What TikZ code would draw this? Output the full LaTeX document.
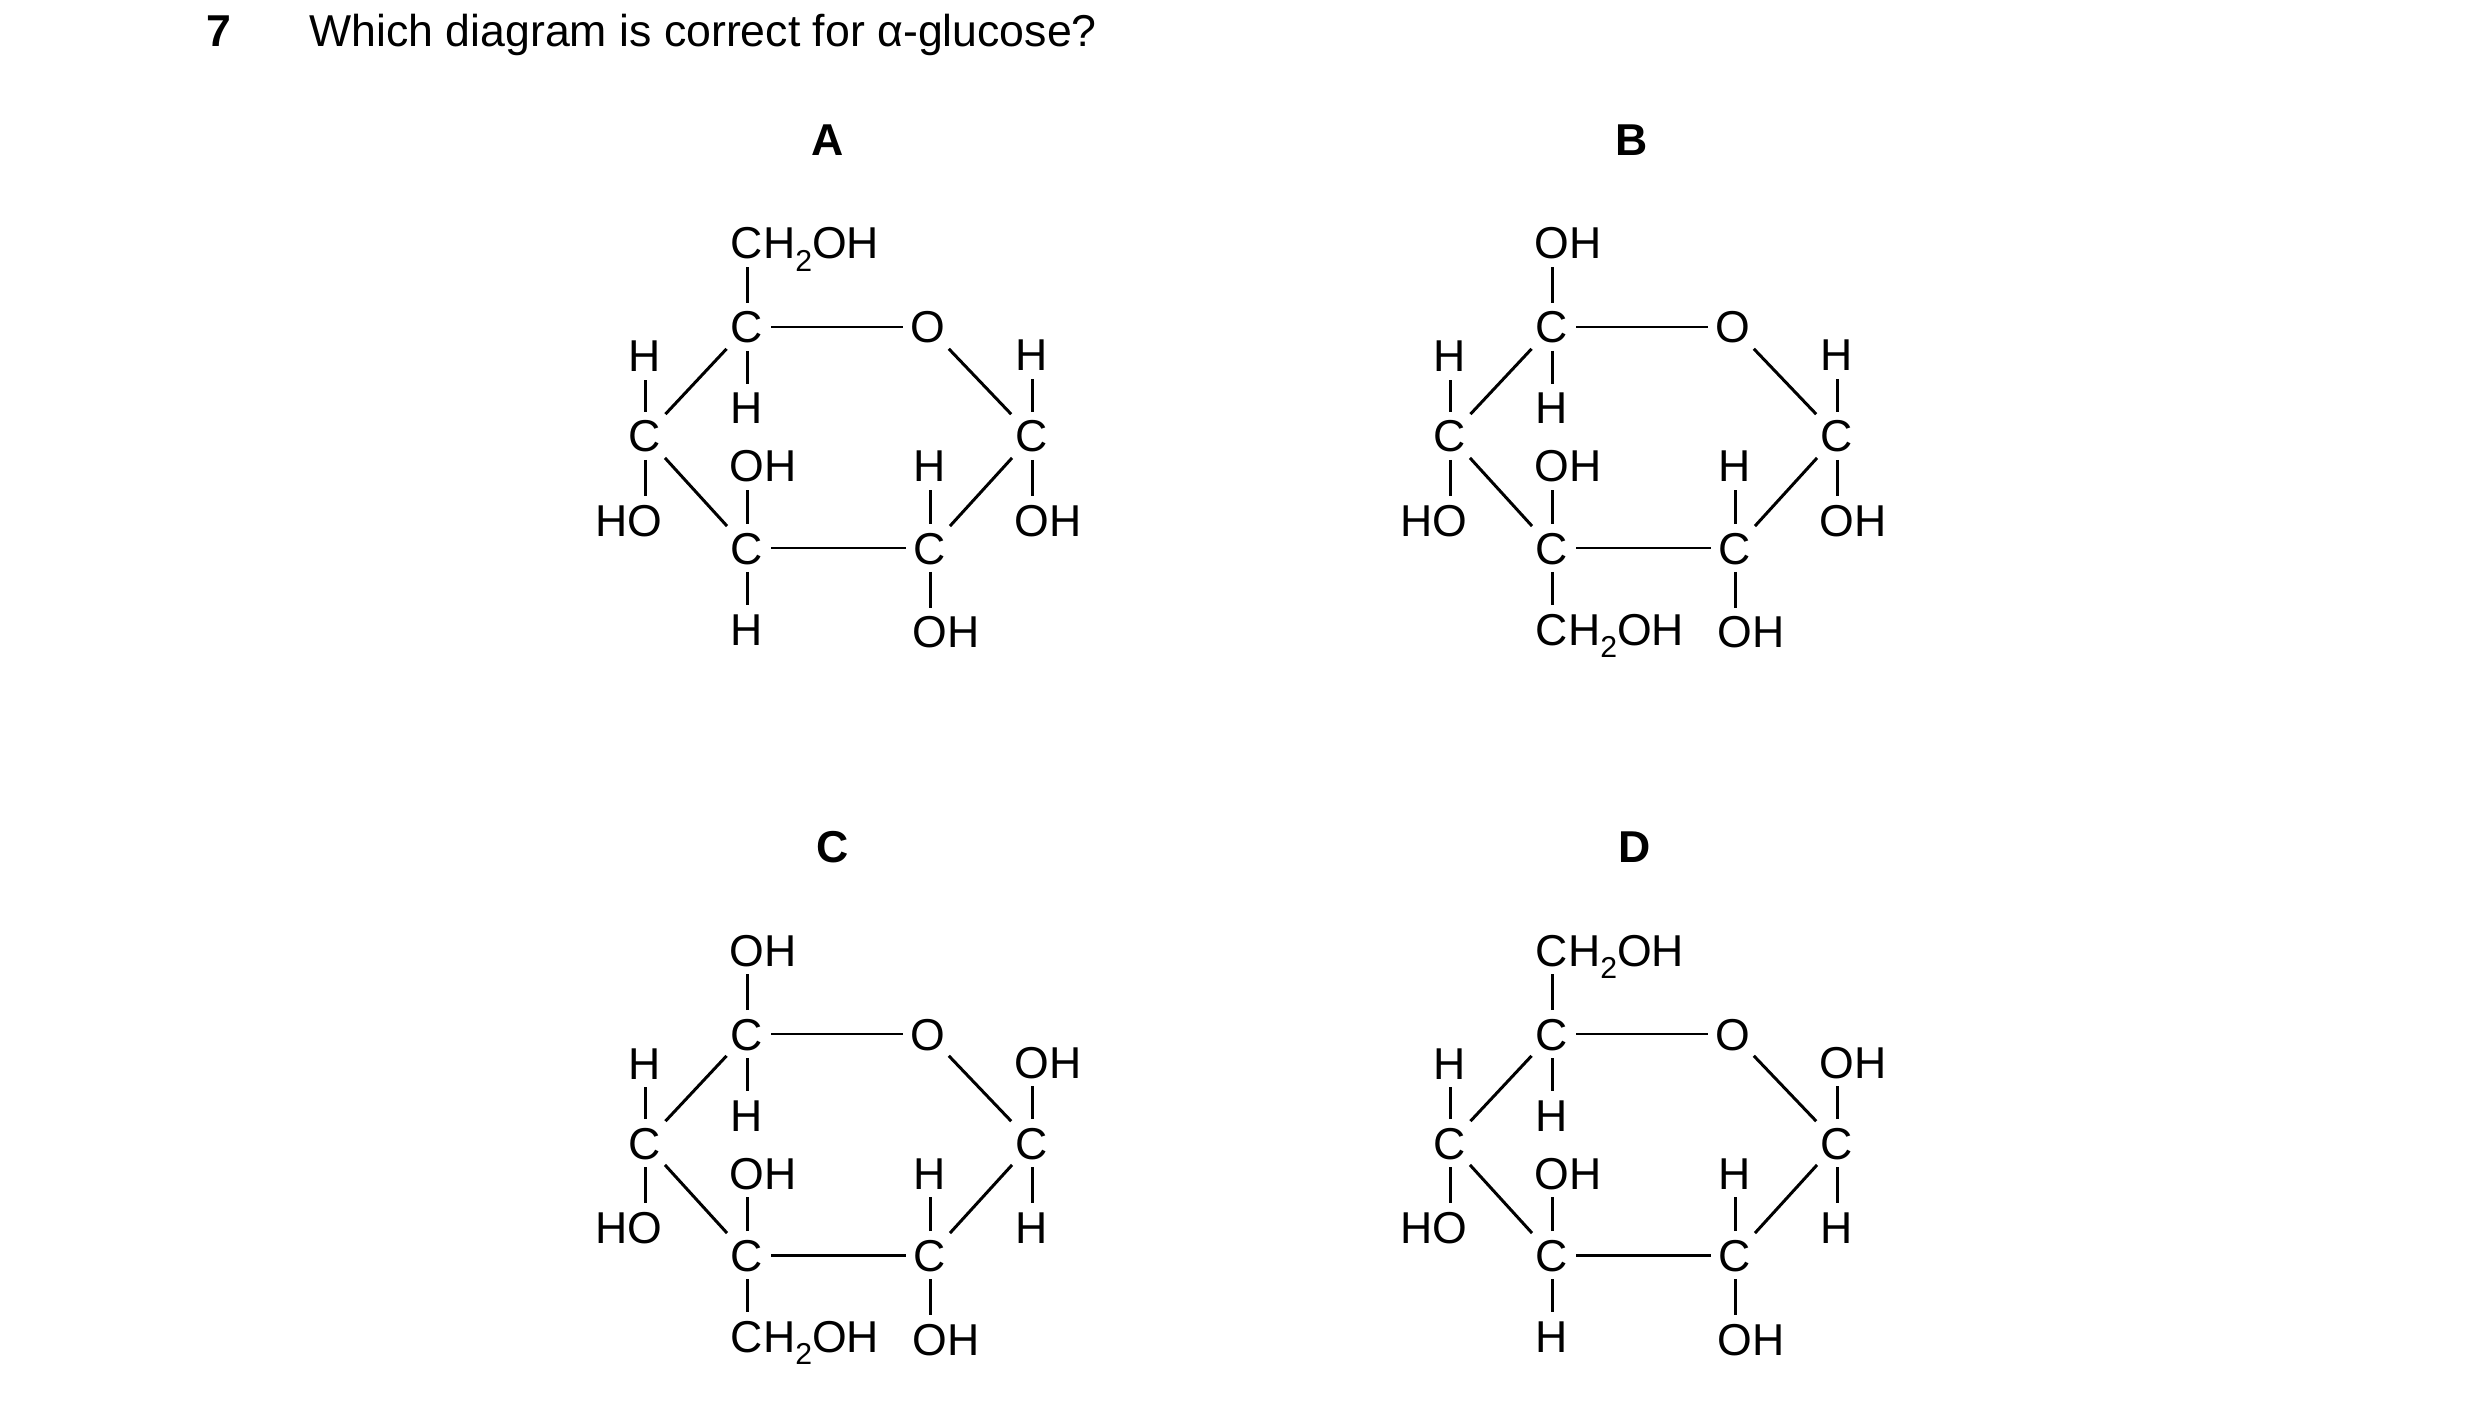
\documentclass[tikz,border=0pt]{standalone}
\usepackage{fontspec}
\setmainfont{Liberation Sans}

\newcommand\two{\raisebox{-0.55ex}{\fontsize{8.6}{10}\selectfont 2}}

% atom letter with the rest of its group written after it
\newcommand\grp[4]{%
  \node[atom] (#1) at (#2) {#3};
  \node[atom, anchor=base west] at (#1.base east) {#4};}

% one ring, top carbon at #1; #2/#3 above top carbon, #4/#5 above right carbon,
% #6/#7 below right carbon, #8/#9 below lower left carbon
\newcommand\ring[9]{%
  \begin{scope}[shift={(#1)}]
    \node[atom] (t) at (0,0) {C};
    \node[atom] (o) at (181,0) {O};
    \node[atom] (l) at (-102,109) {C};
    \node[atom] (r) at (285,109) {C};
    \node[atom] (bl) at (0,221) {C};
    \node[atom] (br) at (183,221) {C};
    \grp{tu}{0,-84}{#2}{#3}
    \node[atom] (th) at (0,81) {H};
    \node[atom] (lh) at (-102,29) {H};
    \node[atom] (lo) at (-102,193) {O};
    \node[atom, anchor=base east] at (lo.base west) {H};
    \grp{ru}{285,28}{#4}{#5}
    \grp{rd}{285,193}{#6}{#7}
    \grp{blu}{0,139}{O}{H}
    \grp{bld}{0,302}{#8}{#9}
    \node[atom] (bru) at (183,139) {H};
    \grp{brd}{183,305}{O}{H}
    \draw[bond] (t) -- (o);
    \draw[bond] (o) -- (r);
    \draw[bond] (r) -- (br);
    \draw[bond] (br) -- (bl);
    \draw[bond] (bl) -- (l);
    \draw[bond] (l) -- (t);
    \foreach \a/\b in {t/tu, t/th, l/lh, l/lo, r/ru, r/rd, bl/blu, bl/bld, br/bru, br/brd}
      \draw[bond] (\a) -- (\b);
  \end{scope}}

\begin{document}
\begin{tikzpicture}[
    x=0.1mm, y=-0.1mm,
    every node/.style={font=\fontsize{12.7}{15}\selectfont},
    atom/.style={inner sep=0pt, outer sep=0pt, text height=3.2mm, text depth=0pt},
    bond/.style={line width=0.85pt, shorten <=0.8mm, shorten >=0.8mm},
    letter/.style={font=\fontsize{12.7}{15}\selectfont\bfseries},
  ]
  \useasboundingbox (0,0) rectangle (2480,1408);

  \node[anchor=base west, font=\fontsize{12.7}{15}\selectfont\bfseries] (num) at (194,47) {7};
  \node[anchor=base west] (question) at (297,47) {Which diagram is correct for α-glucose?};

  \node[letter] (la) at (828,140) {A};
  \node[letter] (lb) at (1632,140) {B};
  \node[letter] (lc) at (833,847) {C};
  \node[letter] (ld) at (1635,847) {D};

  \ring{747,327}{C}{H\two OH}{H}{}{O}{H}{H}{}
  \ring{1552,327}{O}{H}{H}{}{O}{H}{C}{H\two OH}
  \ring{747,1034}{O}{H}{O}{H}{H}{}{C}{H\two OH}
  \ring{1552,1034}{C}{H\two OH}{O}{H}{H}{}{H}{}
\end{tikzpicture}
\end{document}
